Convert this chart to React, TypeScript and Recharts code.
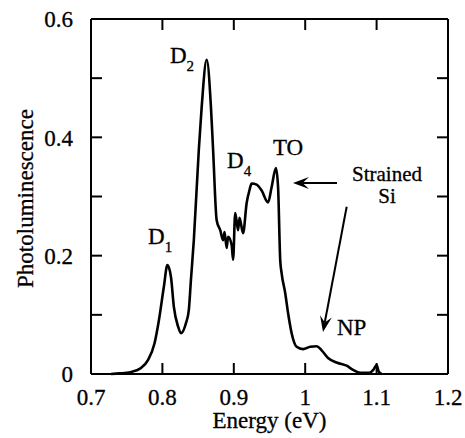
import React from "react";
import { LineChart, Line, XAxis, YAxis } from "recharts";

// photon energy (eV) and PL intensity
const energy = [
  0.728, 0.74, 0.755, 0.77, 0.78, 0.789, 0.795, 0.802, 0.807, 0.812, 0.816, 0.822, 0.826, 0.833, 0.837, 0.84,
  0.844, 0.851, 0.855, 0.862, 0.868, 0.871, 0.876, 0.881, 0.885, 0.887, 0.89, 0.892, 0.897, 0.899, 0.902, 0.906,
  0.908, 0.913, 0.918, 0.922, 0.925, 0.932, 0.939, 0.948, 0.953, 0.959, 0.962, 0.965, 0.967, 0.972, 0.976, 0.981,
  0.988, 0.997, 1.007, 1.016, 1.023, 1.032, 1.045, 1.058, 1.067, 1.077, 1.09, 1.096, 1.1, 1.103, 1.107,
];
const pl = [
  0, 0.001, 0.003, 0.01, 0.024, 0.052, 0.09, 0.147, 0.184, 0.164, 0.114, 0.08, 0.069, 0.086, 0.108, 0.16,
  0.226, 0.379, 0.451, 0.531, 0.451, 0.379, 0.26, 0.243, 0.226, 0.24, 0.213, 0.232, 0.218, 0.193, 0.272, 0.243,
  0.264, 0.238, 0.289, 0.311, 0.322, 0.32, 0.31, 0.29, 0.316, 0.348, 0.316, 0.193, 0.17, 0.137, 0.103, 0.069,
  0.046, 0.042, 0.046, 0.047, 0.04, 0.027, 0.019, 0.014, 0.007, 0.002, 0.002, 0.008, 0.015, 0.004, 0,
];

const xTicks = [0.7, 0.8, 0.9, 1.0, 1.1, 1.2];
const xTickLabels = ["0.7", "0.8", "0.9", "1", "1.1", "1.2"];
const yTicks = [0, 0.1, 0.2, 0.3, 0.4, 0.5, 0.6];
const yTickLabels = ["0", "", "0.2", "", "0.4", "", "0.6"];

const data = energy.map((e, i) => ({ e, pl: pl[i] }));

const W = 465;
const H = 438;
const box = { left: 91, top: 19, right: 448, bottom: 374 };
const font = "Liberation Serif";
const TICK = 11;

// data -> pixel, same box as the chart margins
const px = (e: number) => box.left + ((e - 0.7) / 0.5) * (box.right - box.left);
const py = (v: number) => box.bottom - (v / 0.6) * (box.bottom - box.top);

const txt = { fontFamily: font, fontSize: 23, fill: "#000", stroke: "#000", strokeWidth: 0.3 };

const labelFor = (ticks: number[], labels: string[], v: number) =>
  labels[ticks.findIndex((t) => Math.abs(t - v) < 1e-6)] ?? "";

function BottomTick(props: any) {
  const { x, y, payload } = props;
  return (
    <text x={x} y={y + 31} textAnchor="middle" style={txt}>
      {labelFor(xTicks, xTickLabels, payload.value)}
    </text>
  );
}
function LeftTick(props: any) {
  const { x, y, payload } = props;
  return (
    <text x={x} y={y} dy="0.36em" textAnchor="end" style={txt}>
      {labelFor(yTicks, yTickLabels, payload.value)}
    </text>
  );
}

function Arrow({ x1, y1, x2, y2 }: { x1: number; y1: number; x2: number; y2: number }) {
  const a = Math.atan2(y2 - y1, x2 - x1);
  const len = 16;
  const half = 6;
  const bx = x2 - len * Math.cos(a);
  const by = y2 - len * Math.sin(a);
  const nx = -Math.sin(a) * half;
  const ny = Math.cos(a) * half;
  const ix = x2 - len * 0.6 * Math.cos(a);
  const iy = y2 - len * 0.6 * Math.sin(a);
  return (
    <g>
      <line x1={x1} y1={y1} x2={ix} y2={iy} stroke="#000" strokeWidth={2} />
      <polygon points={`${x2},${y2} ${bx + nx},${by + ny} ${ix},${iy} ${bx - nx},${by - ny}`} fill="#000" />
    </g>
  );
}

function Sub({ e, v, main, sub }: { e: number; v: number; main: string; sub: string }) {
  return (
    <text x={px(e)} y={py(v)} style={txt}>
      {main}
      <tspan dy={8} style={{ fontSize: 15 }}>{sub}</tspan>
    </text>
  );
}

export default function App() {
  const frame = { stroke: "#000", strokeWidth: 2 };
  return (
    <div style={{ position: "absolute", left: 0, top: 0, width: W, height: H, background: "#fff", fontFamily: font }}>
      <LineChart
        width={W}
        height={H}
        data={data}
        margin={{ top: box.top - 1, right: W - box.right - 1, bottom: H - box.bottom - 30, left: box.left - 60 }}
      >
        <XAxis
          xAxisId="b"
          dataKey="e"
          type="number"
          domain={[0.7, 1.2]}
          ticks={xTicks}
          height={30}
          tickSize={0}
          tickMargin={0}
          tickLine={false}
          tick={<BottomTick />}
          axisLine={frame}
        />
        <XAxis
          xAxisId="t"
          orientation="top"
          dataKey="e"
          type="number"
          domain={[0.7, 1.2]}
          ticks={xTicks}
          height={1}
          tick={false}
          tickLine={false}
          axisLine={frame}
        />
        <YAxis
          yAxisId="l"
          type="number"
          domain={[0, 0.6]}
          ticks={yTicks}
          width={60}
          tickSize={0}
          tickMargin={18}
          tickLine={false}
          tick={<LeftTick />}
          axisLine={frame}
        />
        <YAxis
          yAxisId="r"
          orientation="right"
          type="number"
          domain={[0, 0.6]}
          ticks={yTicks}
          width={1}
          tick={false}
          tickLine={false}
          axisLine={frame}
        />
        <Line
          xAxisId="t"
          yAxisId="r"
          dataKey="pl"
          stroke="none"
          dot={false}
          activeDot={false}
          isAnimationActive={false}
        />
        <Line
          xAxisId="b"
          yAxisId="l"
          dataKey="pl"
          type="monotone"
          stroke="#000"
          strokeWidth={2.6}
          dot={false}
          isAnimationActive={false}
        />
      </LineChart>
      <svg width={W} height={H} style={{ position: "absolute", left: 0, top: 0, pointerEvents: "none" }}>
        {/* inward tick marks on all four sides */}
        {xTicks.map((t) => (
          <g key={`x${t}`}>
            <line x1={px(t)} y1={box.bottom} x2={px(t)} y2={box.bottom - TICK} stroke="#000" strokeWidth={2} />
            <line x1={px(t)} y1={box.top} x2={px(t)} y2={box.top + TICK} stroke="#000" strokeWidth={2} />
          </g>
        ))}
        {yTicks.map((t) => (
          <g key={`y${t}`}>
            <line x1={box.left} y1={py(t)} x2={box.left + TICK} y2={py(t)} stroke="#000" strokeWidth={2} />
            <line x1={box.right} y1={py(t)} x2={box.right - TICK} y2={py(t)} stroke="#000" strokeWidth={2} />
          </g>
        ))}
        <Sub e={0.78} v={0.22} main="D" sub="1" />
        <Sub e={0.8106} v={0.5256} main="D" sub="2" />
        <Sub e={0.8905} v={0.3482} main="D" sub="4" />
        <text x={px(0.9549)} y={py(0.37)} style={txt}>TO</text>
        <text x={px(1.1146)} y={py(0.3262)} style={{ ...txt, fontSize: 21 }} textAnchor="middle">Strained</text>
        <text x={px(1.1146)} y={py(0.2885)} style={{ ...txt, fontSize: 21 }} textAnchor="middle">Si</text>
        <text x={px(1.0445)} y={py(0.0659)} style={txt}>NP</text>
        <Arrow x1={px(1.0445)} y1={py(0.3228)} x2={px(0.9829)} y2={py(0.3228)} />
        <Arrow x1={px(1.0581)} y1={py(0.2827)} x2={px(1.0249)} y2={py(0.071)} />
        <text x={(box.left + box.right) / 2} y={428} style={txt} textAnchor="middle">
          Energy (eV)
        </text>
        <text
          transform={`translate(33, ${(box.top + box.bottom) / 2 + 2}) rotate(-90)`}
          style={txt}
          textAnchor="middle"
        >
          Photoluminescence
        </text>
      </svg>
    </div>
  );
}
